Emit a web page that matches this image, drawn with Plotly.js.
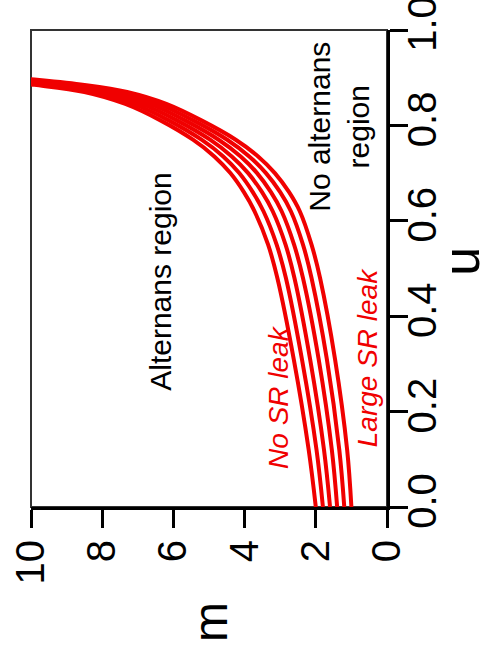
<!DOCTYPE html>
<html>
<head>
<meta charset="utf-8">
<script src="https://cdn.plot.ly/plotly-3.0.1.min.js"></script>
<style>html,body{margin:0;padding:0;background:#fff;}#chart{width:499px;height:656px;}</style>
</head>
<body>
<div id="chart"></div>
<script>
// u values (shared by all curves)
const uVals = [0, 0.12, 0.31, 0.48, 0.55, 0.62, 0.66, 0.70, 0.735, 0.77, 0.81, 0.845, 0.87, 0.885, 0.897, 0.905];
// m values of each curve, from "No SR leak" (m=2 at u=0) to "Large SR leak" (m=1 at u=0)
const mCurve1 = [2.0, 2.20, 2.62, 3.08, 3.34, 3.72, 4.02, 4.40, 4.85, 5.45, 6.35, 7.35, 8.50, 9.90, 11.40, 12.50];
const mCurve2 = [1.8, 1.98, 2.39, 2.84, 3.10, 3.47, 3.77, 4.15, 4.60, 5.21, 6.12, 7.12, 8.26, 9.62, 11.12, 12.24];
const mCurve3 = [1.6, 1.77, 2.16, 2.60, 2.85, 3.21, 3.51, 3.90, 4.36, 4.97, 5.89, 6.89, 8.02, 9.34, 10.84, 11.98];
const mCurve4 = [1.4, 1.55, 1.92, 2.36, 2.61, 2.96, 3.26, 3.65, 4.11, 4.73, 5.66, 6.66, 7.78, 9.06, 10.56, 11.72];
const mCurve5 = [1.2, 1.34, 1.69, 2.12, 2.36, 2.70, 3.00, 3.40, 3.87, 4.49, 5.43, 6.43, 7.54, 8.78, 10.28, 11.46];
const mCurve6 = [1.0, 1.12, 1.46, 1.88, 2.12, 2.45, 2.75, 3.15, 3.62, 4.25, 5.20, 6.20, 7.30, 8.50, 10.00, 11.20];
const curves = [mCurve1, mCurve2, mCurve3, mCurve4, mCurve5, mCurve6];

const mTicks = [0, 2, 4, 6, 8, 10];
const uTicks = [0, 0.2, 0.4, 0.6, 0.8, 1.0];
const uTickText = ["0.0", "0.2", "0.4", "0.6", "0.8", "1.0"];

const RED = 'rgb(240,0,0)';
const FONT = 'Liberation Sans, Arial, sans-serif';

const traces = curves.map(m => ({
  x: m, y: uVals, type: 'scatter', mode: 'lines',
  line: {color: RED, width: 4, shape: 'spline', smoothing: 1},
  hoverinfo: 'skip', showlegend: false
}));

function note(text, x, y, size, color) {
  return {text: text, xref: 'paper', yref: 'paper', x: x, y: y,
    xanchor: 'center', yanchor: 'middle', showarrow: false, textangle: -90,
    font: {size: size, family: FONT, color: color}};
}

const layout = {
  width: 499, height: 656,
  margin: {l: 31, r: 112, t: 30, b: 149},
  paper_bgcolor: '#fff', plot_bgcolor: '#fff',
  showlegend: false,
  font: {family: FONT, color: '#000'},
  xaxis: {
    range: [10, 0], tickvals: mTicks, ticktext: mTicks.map(String),
    showgrid: false, zeroline: false,
    showline: true, linecolor: '#000', linewidth: 3,
    ticks: 'outside', ticklen: 18, tickwidth: 3, tickcolor: '#000',
    tickangle: -90, tickfont: {size: 40, family: FONT, color: '#000'},
    ticklabelstandoff: -4, ticklabeloverflow: 'allow'
  },
  yaxis: {
    range: [0, 1], side: 'right', tickvals: uTicks, ticktext: uTickText,
    showgrid: false, zeroline: false,
    showline: true, linecolor: '#000', linewidth: 3,
    ticks: 'outside', ticklen: 18, tickwidth: 3, tickcolor: '#000',
    tickangle: -90, tickfont: {size: 40, family: FONT, color: '#000'},
    ticklabelstandoff: -20, ticklabeloverflow: 'allow'
  },
  shapes: [{
    type: 'rect', xref: 'paper', yref: 'paper', x0: 0, x1: 1, y0: 0, y1: 1,
    line: {color: '#333', width: 2}, layer: 'below'
  }],
  annotations: [
    note('m', 0.506, -0.241, 48, '#000'),
    note('u', 1.208, 0.514, 52, '#000'),
    note('Alternans region', 0.365, 0.472, 30, '#000'),
    note('No alternans<br>region', 0.865, 0.797, 30, '#000'),
    note('<i>No SR leak</i>', 0.697, 0.231, 28, RED),
    note('<i>Large SR leak</i>', 0.944, 0.312, 28, RED)
  ]
};

Plotly.newPlot('chart', traces, layout, {staticPlot: true, displayModeBar: false});
</script>
</body>
</html>
